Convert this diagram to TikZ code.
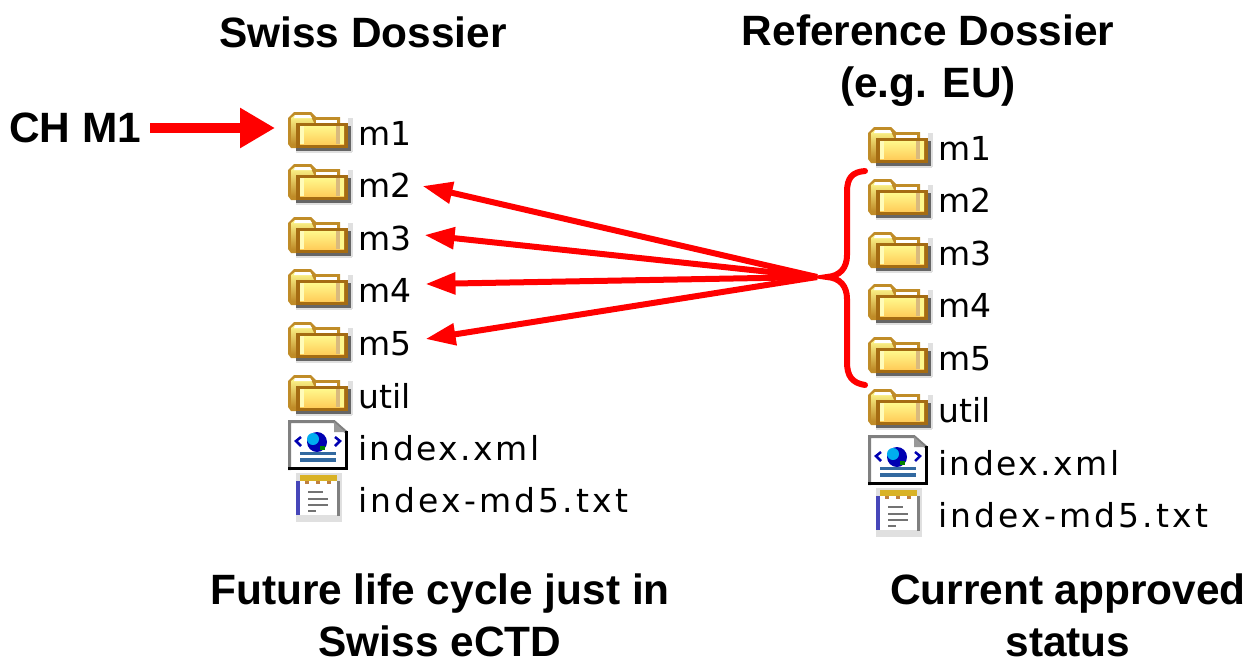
\documentclass[tikz,border=0pt]{standalone}
\usepackage{fontspec}
\setmainfont{Liberation Sans}
\newfontfamily\filefont{DejaVu Sans}
\newfontfamily\xmlfont[LetterSpace=7.5]{DejaVu Sans}
\newfontfamily\txtfont[LetterSpace=9.5]{DejaVu Sans}
\usetikzlibrary{arrows.meta}
\definecolor{arrowred}{RGB}{255,0,0}
\definecolor{foldertan}{RGB}{165,108,18}
\definecolor{folderback}{RGB}{192,140,40}
\definecolor{folderlight}{RGB}{255,248,140}
\definecolor{folderdeep}{RGB}{255,205,90}
\definecolor{xmlblue}{RGB}{50,105,160}
\tikzset{
  title/.style={font=\fontsize{42.4}{52}\selectfont\bfseries, align=center, inner sep=0pt},
  file/.style={font=\fontsize{33}{33}\selectfont\filefont, anchor=base west, inner sep=0pt},
  xmlname/.style={file, font=\fontsize{33}{33}\selectfont\xmlfont},
  txtname/.style={file, font=\fontsize{33}{33}\selectfont\txtfont},
  redline/.style={draw=arrowred, line width=6pt, -{Triangle[length=30pt,width=21pt]}},
  folder/.pic={
    \fill[black!12] (8,36) rectangle (64,41);
    \fill[black!12] (60,6) rectangle (65,40);
    \fill[black!60] (8,36) rectangle (60,38.5);
    \fill[black!60] (60,14) rectangle (63,38.5);
    \fill[folderback] (0,6) -- (6,0) -- (23,0) -- (28,5) -- (52,5) -- (52,14) -- (8,14) -- (8,36) -- (3,36) -- (0,32) -- cycle;
    \shade[top color=folderlight, bottom color=folderback] (3,6) -- (7,3) -- (22,3) -- (26,11) -- (8,11) -- (8,32) -- (3,32) -- cycle;
    \fill[white] (7,3) -- (22,3) -- (24,6) -- (6,6) -- cycle;
    \fill[white] (28,8) rectangle (49,11);
    \fill[foldertan] (8,11) rectangle (60,14);
    \fill[foldertan] (8,14) rectangle (12,36);
    \fill[foldertan] (8,32) rectangle (60,36);
    \fill[foldertan] (56,11) rectangle (60,36);
    \shade[top color=folderlight, bottom color=folderdeep] (12,14) rectangle (56,32);
    \fill[folderlight!60!white] (12,14) rectangle (16,32);
    \fill[folderback!60!white] (48,14) rectangle (52,32);
    \fill[folderlight] (52,14) rectangle (56,32);
  },
  xmlpage/.pic={
    \fill[white] (0,0) -- (46,0) -- (60,12) -- (60,50) -- (0,50) -- cycle;
    \draw[black!50, line width=3pt] (1.5,50) -- (1.5,1.5) -- (46,1.5) -- (58,12);
    \draw[black, line width=3pt] (58.5,11) -- (58.5,48.5) -- (0,48.5);
    \fill[black!40] (46,2) -- (46,12) -- (57,12) -- cycle;
    \fill[blue!70!black] (29,22) circle (10);
    \fill[cyan] (25,19) circle (6);
    \fill[green!50!black] (32,26) rectangle (37,30);
    \draw[blue!70!black, line width=2.5pt] (13,17) -- (8,21) -- (13,26);
    \draw[blue!70!black, line width=2.5pt] (47,17) -- (52,21) -- (47,26);
    \fill[xmlblue] (12,32) rectangle (48,35);
    \fill[xmlblue] (12,38) rectangle (48,42);
  },
  txtpage/.pic={
    \fill[black!12] (0,0) rectangle (46,49);
    \fill[white] (4,8) rectangle (41,42);
    \fill[black!50] (41,8) rectangle (44,43);
    \fill[blue!45!gray] (0,8) rectangle (4,42);
    \fill[brown!60!yellow] (4,2) rectangle (41,8);
    \fill[brown] (9,8) rectangle (13,11);
    \fill[brown] (20,8) rectangle (24,11);
    \fill[brown] (31,8) rectangle (35,11);
    \fill[black!55] (12,18) rectangle (27,20);
    \fill[black!55] (12,25) rectangle (32,27);
    \fill[black!55] (12,31) rectangle (32,33);
    \fill[black!55] (12,37) rectangle (20,39);
  },
}
\begin{document}
\begin{tikzpicture}[x=1pt,y=-1pt]
  \useasboundingbox (0,0) rectangle (1260,656);
  % left column
  \node[title] (ltitle) at (363,32) {Swiss Dossier};
  \foreach \y in {112,164,217,269,322,375} {
    \pic at (288,\y) {folder};
  }
  \node[file] (l1) at (358,145) {m1};
  \node[file] (l2) at (358,197) {m2};
  \node[file] (l3) at (358,250) {m3};
  \node[file] (l4) at (358,302) {m4};
  \node[file] (l5) at (358,355) {m5};
  \node[file] (l6) at (358,408) {util};
  \pic at (288,420) {xmlpage};
  \pic at (296,473) {txtpage};
  \node[xmlname] (l7) at (358,460) {index.xml};
  \node[txtname] (l8) at (358,512) {index-md5.txt};
  \node[title] (lnote) at (440,615) {Future life cycle just in\\Swiss eCTD};
  % right column
  \node[title] (rtitle) at (928,61) {Reference Dossier\\(e.g. EU)};
  \foreach \y in {127,179,232,284,337,389} {
    \pic at (868,\y) {folder};
  }
  \node[file] (r1) at (938,160) {m1};
  \node[file] (r2) at (938,212) {m2};
  \node[file] (r3) at (938,265) {m3};
  \node[file] (r4) at (938,317) {m4};
  \node[file] (r5) at (938,370) {m5};
  \node[file] (r6) at (938,422) {util};
  \pic at (868,435) {xmlpage};
  \pic at (876,488) {txtpage};
  \node[xmlname] (r7) at (938,475) {index.xml};
  \node[txtname] (r8) at (938,527) {index-md5.txt};
  \node[title] (rnote) at (1068,615) {Current approved\\status};
  % brace and arrows
  \draw[arrowred, line width=6pt, line cap=round]
    (865,171) .. controls (852,172) and (847,178) .. (847,192) -- (847,255)
    .. controls (847,268) and (840,276) .. (827,277)
    .. controls (840,278) and (847,286) .. (847,299) -- (847,362)
    .. controls (847,376) and (852,383) .. (865,385);
  \coordinate (fan) at (817,277);
  \foreach \n/\dx/\dy in {2/11/11,3/13/15,4/14/18,5/14/16} {
    \draw[redline] (fan) -- ([xshift=\dx pt,yshift=\dy pt]l\n.base east);
  }
  \node[title] (chm) at (75,128) {CH M1};
  \coordinate (chtail) at (150,128);
  \coordinate (chtip) at (275,128);
  \draw[arrowred, line width=10pt, -{Triangle[length=35pt,width=38pt]}] (chtail) -- (chtip);
\end{tikzpicture}
\end{document}
